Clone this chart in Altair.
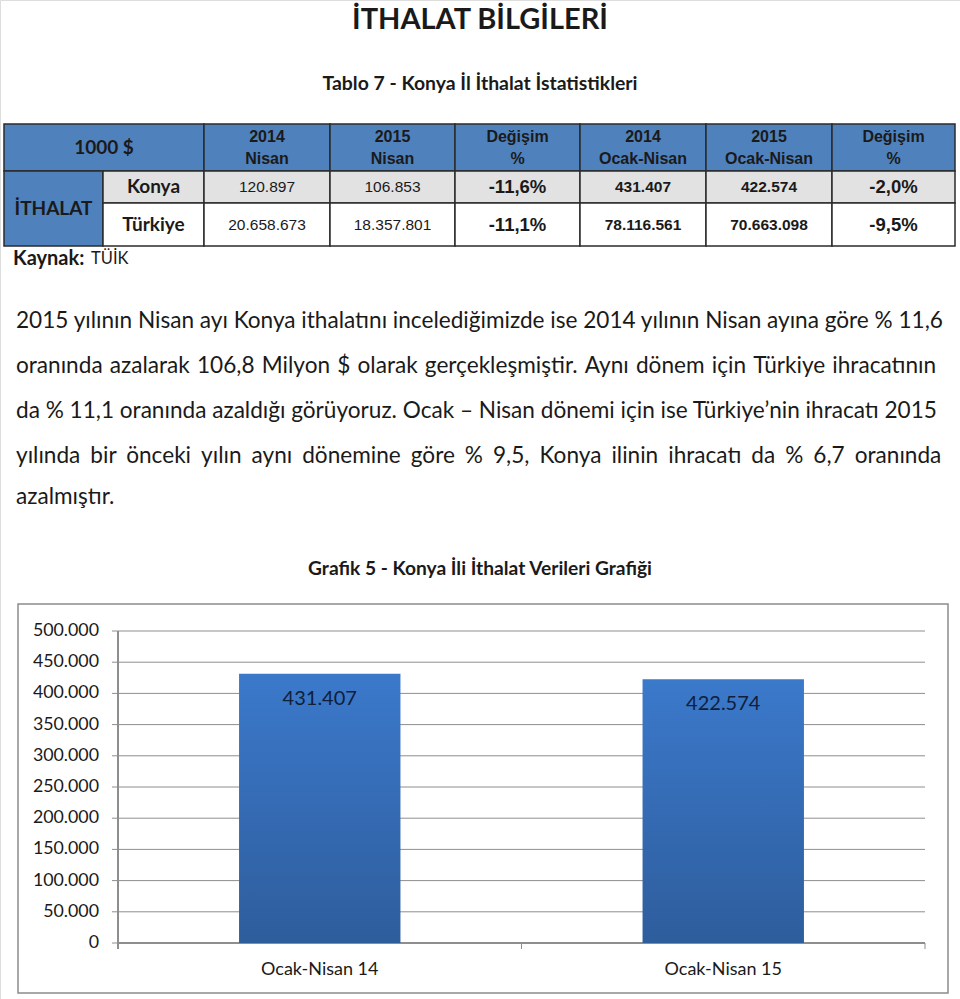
import altair as alt
import pandas as pd

# ---------------- data ----------------
page_title = "İTHALAT BİLGİLERİ"
table_title = "Tablo 7 -  Konya İl İthalat İstatistikleri"
unit_label = "1000  $"
group_label = "İTHALAT"
header_top = ["2014", "2015", "Değişim", "2014", "2015", "Değişim"]
header_bottom = ["Nisan", "Nisan", "%", "Ocak-Nisan", "Ocak-Nisan", "%"]
row_names = ["Konya", "Türkiye"]
konya_vals = ["120.897", "106.853", "-11,6%", "431.407", "422.574", "-2,0%"]
turkiye_vals = ["20.658.673", "18.357.801", "-11,1%", "78.116.561", "70.663.098", "-9,5%"]
source_label = "Kaynak:"
source_value = "TÜİK"
paragraph_lines = [
    "2015 yılının Nisan ayı Konya ithalatını incelediğimizde ise 2014 yılının Nisan ayına göre % 11,6",
    "oranında azalarak 106,8 Milyon $ olarak gerçekleşmiştir. Aynı dönem için Türkiye ihracatının",
    "da % 11,1 oranında azaldığı görüyoruz. Ocak – Nisan dönemi için ise Türkiye’nin ihracatı 2015",
    "yılında bir önceki yılın aynı dönemine göre % 9,5, Konya ilinin ihracatı da % 6,7 oranında",
    "azalmıştır.",
]
chart_title = "Grafik 5 - Konya İli İthalat Verileri Grafiği"
periods = ["Ocak-Nisan 14", "Ocak-Nisan 15"]
imports = [431407, 422574]
y_ticks = [0, 50000, 100000, 150000, 200000, 250000, 300000, 350000, 400000, 450000, 500000]

# ---------------- layout (pixels) ----------------
col_edges = [4, 103, 204, 330, 455, 580, 706, 832, 955]
row_edges = [124, 171, 203, 246]
para_y = [328, 373, 418, 463, 504]
# extra gap filler per paragraph line (simulates justified text)
para_gap_fill = ["", "\u200a", "", "\u2009\u200a", ""]
plot_left, plot_right, plot_top, plot_bottom = 118, 925, 631, 943
BLUE = "#4f81bd"
GRAY = "#e2e2e2"
INK = "#1a1a1a"


def tl(v):
    return f"{v:,}".replace(",", ".")


# ---------------- table cells ----------------
cells = []
cells.append(dict(x=col_edges[0], x2=col_edges[2], y=row_edges[0], y2=row_edges[1], fill=BLUE))
for i in range(6):
    cells.append(dict(x=col_edges[i + 2], x2=col_edges[i + 3], y=row_edges[0], y2=row_edges[1], fill=BLUE))
cells.append(dict(x=col_edges[0], x2=col_edges[1], y=row_edges[1], y2=row_edges[3], fill=BLUE))
for r, fill in ((1, GRAY), (2, "#ffffff")):
    for c in range(1, 8):
        cells.append(dict(x=col_edges[c], x2=col_edges[c + 1], y=row_edges[r], y2=row_edges[r + 1], fill=fill))
cells_df = pd.DataFrame(cells)


def mid(a, b):
    return (a + b) / 2


texts = []


def T(text, x, y, size, font="Lato", weight="normal", align="center", color=INK, baseline="middle"):
    texts.append(dict(text=text, x=x, y=y, size=size, font=font, weight=weight, align=align,
                      color=color, baseline=baseline))


T(page_title, 480, 29, 29, weight="bold", baseline="alphabetic")
T(table_title, 480, 90, 19.4, weight="bold", baseline="alphabetic")
T(unit_label, mid(col_edges[0], col_edges[2]), 148, 19, weight="bold")
for i in range(6):
    cx = mid(col_edges[i + 2], col_edges[i + 3])
    T(header_top[i], cx, 137, 16, font="Liberation Sans", weight="bold")
    T(header_bottom[i], cx, 159, 16, font="Liberation Sans", weight="bold")
T(group_label, mid(col_edges[0], col_edges[1]), 209, 19, weight="bold")
for r, (name, vals) in enumerate(((row_names[0], konya_vals), (row_names[1], turkiye_vals))):
    cy = mid(row_edges[r + 1], row_edges[r + 2])
    T(name, mid(col_edges[1], col_edges[2]), cy, 19, weight="bold")
    for i, v in enumerate(vals):
        cx = mid(col_edges[i + 2], col_edges[i + 3])
        if i < 2:
            T(v, cx, cy, 15.5, font="Liberation Sans")
        elif i in (2, 5):
            T(v, cx, cy, 18.5, font="Liberation Sans", weight="bold")
        else:
            T(v, cx, cy, 15.5, font="Liberation Sans", weight="bold")
T(source_label, 13, 259, 20, weight="bold", align="left")
T(source_value, 91, 259, 16.5, align="left")
for line, y, fill in zip(paragraph_lines, para_y, para_gap_fill):
    T(line.replace(" ", " " + fill) if fill else line, 16, y, 22.6, align="left", baseline="alphabetic")
T(chart_title, 480, 575, 19.2, weight="bold", baseline="alphabetic")
texts_df = pd.DataFrame(texts)

layers = []
layers.append(
    alt.Chart(cells_df).mark_rect(stroke="#2b2b2b", strokeWidth=1.5).encode(
        x=alt.X("x:Q", scale=None, axis=None), x2="x2:Q",
        y=alt.Y("y:Q", scale=None, axis=None), y2="y2:Q",
        fill=alt.Fill("fill:N", scale=None),
    )
)
for (font, weight, align, baseline), g in texts_df.groupby(["font", "weight", "align", "baseline"]):
    layers.append(
        alt.Chart(g).mark_text(font=font, fontWeight=weight, align=align, baseline=baseline).encode(
            x=alt.X("x:Q", scale=None, axis=None),
            y=alt.Y("y:Q", scale=None, axis=None),
            text="text:N",
            size=alt.Size("size:Q", scale=None),
            color=alt.Color("color:N", scale=None),
        )
    )

# ---------------- bar chart ----------------
frame_df = pd.DataFrame([dict(x=18, x2=948, y=604, y2=993)])
layers.append(
    alt.Chart(frame_df).mark_rect(fill=None, stroke="#8c8c8c", strokeWidth=1.5).encode(
        x=alt.X("x:Q", scale=None, axis=None), x2="x2:Q",
        y=alt.Y("y:Q", scale=None, axis=None), y2="y2:Q",
    )
)

yscale = alt.Scale(domain=[0, 500000], range=[plot_bottom, plot_top], nice=False, zero=True)
xscale = alt.Scale(domain=periods, range=[plot_left, plot_right], paddingInner=0.6, paddingOuter=0.3)

ticks_df = pd.DataFrame({"tick": y_ticks, "label": [tl(t) for t in y_ticks]})
bars_df = pd.DataFrame({"period": periods, "value": imports, "label": [tl(v) for v in imports]})

grid = alt.Chart(ticks_df).mark_rule(color="#8e8e8e", strokeWidth=1).encode(
    y=alt.Y("tick:Q", scale=yscale, axis=None),
    x=alt.value(plot_left), x2=alt.value(plot_right),
)
ytick_marks = alt.Chart(ticks_df).mark_rule(color="#8e8e8e", strokeWidth=1).encode(
    y=alt.Y("tick:Q", scale=yscale, axis=None),
    x=alt.value(plot_left - 6), x2=alt.value(plot_left),
)
ylabels = alt.Chart(ticks_df).mark_text(font="Lato", fontSize=17.8, align="right", baseline="middle", color=INK).encode(
    y=alt.Y("tick:Q", scale=yscale, axis=None),
    x=alt.value(plot_left - 19),
    text="label:N",
)
yaxis_line = alt.Chart(ticks_df).mark_rule(color="#8e8e8e", strokeWidth=1.2).encode(
    x=alt.value(plot_left), y=alt.value(plot_top), y2=alt.value(plot_bottom + 6)
)
xaxis_line = alt.Chart(ticks_df).mark_rule(color="#8e8e8e", strokeWidth=1.2).encode(
    x=alt.value(plot_left), x2=alt.value(plot_right), y=alt.value(plot_bottom)
)
xtick_df = pd.DataFrame({"xt": [plot_left, (plot_left + plot_right) / 2, plot_right]})
xticks = alt.Chart(xtick_df).mark_rule(color="#8e8e8e", strokeWidth=1).encode(
    x=alt.X("xt:Q", scale=None, axis=None), y=alt.value(plot_bottom), y2=alt.value(plot_bottom + 6)
)
bar_gradient = alt.Gradient(
    gradient="linear",
    stops=[alt.GradientStop(color="#3b79cb", offset=0), alt.GradientStop(color="#2e5d9c", offset=1)],
    x1=0, x2=0, y1=0, y2=1,
)
bars = alt.Chart(bars_df).mark_bar(color=bar_gradient).encode(
    x=alt.X("period:N", scale=xscale, axis=None, sort=periods),
    y=alt.Y("value:Q", scale=yscale, axis=None),
)
bar_labels = alt.Chart(bars_df).mark_text(font="Lato", fontSize=20, baseline="middle", dy=25, color="#10203a").encode(
    x=alt.X("period:N", scale=xscale, axis=None, sort=periods),
    y=alt.Y("value:Q", scale=yscale, axis=None),
    text="label:N",
)
cat_labels = alt.Chart(bars_df).mark_text(font="Lato", fontSize=18, baseline="middle", color=INK).encode(
    x=alt.X("period:N", scale=xscale, axis=None, sort=periods),
    y=alt.value(970),
    text="period:N",
)

layers += [grid, ytick_marks, ylabels, yaxis_line, xaxis_line, xticks, bars, bar_labels, cat_labels]

chart = alt.layer(*layers).properties(
    width=960, height=999, padding=0, autosize=alt.AutoSizeParams(type="none")
).configure_view(stroke=None).configure(background="white")

chart.save("out.html", embed_options={"renderer": "svg", "actions": False})
